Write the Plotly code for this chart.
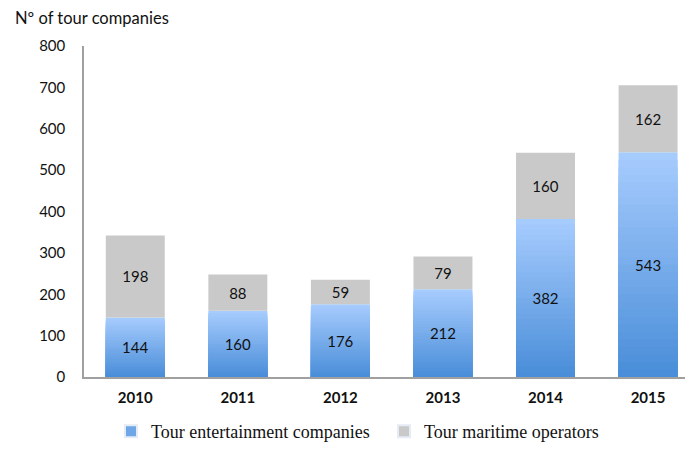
import plotly.graph_objects as go

years = ["2010", "2011", "2012", "2013", "2014", "2015"]
entertainment = [144, 160, 176, 212, 382, 543]
maritime = [198, 88, 59, 79, 160, 162]

blue_top = (166, 203, 253)
blue_bottom = (74, 142, 217)
grey = "#c9c9c9"
bar_width = 0.575
steps = 30

fig = go.Figure()

# Vertical gradient on the blue segments: stacked overlays that shrink and darken
for i in range(steps):
    frac = (steps - i) / steps
    t = i / (steps - 1)
    rgb = tuple(round(a + (b - a) * t) for a, b in zip(blue_top, blue_bottom))
    fig.add_trace(go.Bar(
        x=years, y=[v * frac for v in entertainment],
        marker=dict(color="rgb(%d,%d,%d)" % rgb, line=dict(width=0)),
        width=bar_width, showlegend=False, hoverinfo="skip",
    ))

# Labels for the blue segments
fig.add_trace(go.Bar(
    x=years, y=entertainment, name="Tour entertainment companies",
    marker=dict(color="rgba(0,0,0,0)", line=dict(width=0)),
    width=bar_width, text=[str(v) for v in entertainment],
    textposition="inside", insidetextanchor="middle",
    textfont=dict(family="Lato, Open Sans, sans-serif", size=15, color="#111111"),
    showlegend=False,
))

# Grey segments on top of the blue ones
fig.add_trace(go.Bar(
    x=years, y=maritime, base=entertainment, name="Tour maritime operators",
    marker=dict(color=grey, line=dict(width=0)),
    width=bar_width, text=[str(v) for v in maritime],
    textposition="inside", insidetextanchor="middle",
    textfont=dict(family="Lato, Open Sans, sans-serif", size=15, color="#111111"),
    showlegend=False,
))

# Legend entries
fig.add_trace(go.Bar(x=[None], y=[None], name="Tour entertainment companies",
                     marker=dict(color="rgb(110,166,232)")))
fig.add_trace(go.Bar(x=[None], y=[None], name="Tour maritime operators",
                     marker=dict(color=grey)))

fig.update_layout(
    width=685, height=450,
    barmode="overlay",
    plot_bgcolor="white", paper_bgcolor="white",
    margin=dict(l=84, r=0, t=46, b=73, autoexpand=False),
    font=dict(family="Lato, Open Sans, sans-serif", size=14, color="#111111"),
    showlegend=True,
    legend=dict(orientation="h", xref="container", yref="container",
                x=111/685, xanchor="left", y=0.0, yanchor="bottom",
                font=dict(family="Liberation Serif, Times New Roman, serif", size=18, color="#111111"),
                itemwidth=30, entrywidth=228, traceorder="normal", tracegroupgap=0,
                itemsizing="constant"),
    annotations=[dict(text="Nº of tour companies", xref="paper", yref="paper",
                      x=-71/601, y=1 + 28/331, xanchor="left", yanchor="middle",
                      showarrow=False,
                      font=dict(family="Lato, Open Sans, sans-serif", size=16.5, color="#111111"))],
)

fig.update_xaxes(
    type="category", range=[-0.5, 5.36],
    showline=True, linecolor="#a0a0a0", linewidth=1.5,
    ticks="", ticklabelstandoff=6,
    tickfont=dict(family="Lato, Open Sans, sans-serif", size=15, color="#111111", weight="bold"),
    showgrid=False,
)
fig.update_yaxes(
    range=[0, 800], dtick=100,
    showline=True, linecolor="#a0a0a0", linewidth=1.5,
    ticks="", ticklabelstandoff=14, showgrid=False, zeroline=False,
    tickfont=dict(family="Lato, Open Sans, sans-serif", size=15, color="#111111"),
)

fig.write_html("out.html")
